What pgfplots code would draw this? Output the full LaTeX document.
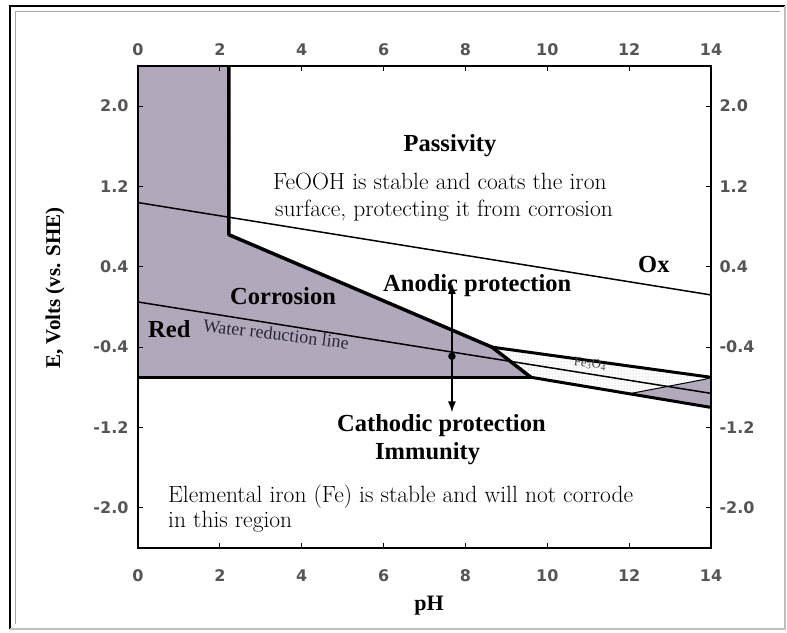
\documentclass[border=0pt]{standalone}
\usepackage{pgfplots}
\pgfplotsset{compat=1.18}
\usepackage{fontspec}
\usetikzlibrary{patterns,arrows.meta}
\newfontfamily\tnr{Liberation Serif}
\newfontfamily\tsf{DejaVu Sans}
\definecolor{corr}{RGB}{178,170,188}
\definecolor{corrdot}{RGB}{160,152,172}
\definecolor{tickgray}{RGB}{85,85,85}
\definecolor{thin}{RGB}{40,40,60}
\begin{document}
\begin{tikzpicture}
\useasboundingbox (0pt,0pt) rectangle (787pt,632pt);
\draw[line width=2.5pt] (10pt,3pt) -- (10pt,626pt) -- (785pt,626pt);
\draw[line width=1.5pt, gray!50] (10pt,3pt) -- (785pt,3pt) -- (785pt,626pt);
\draw[line width=0.8pt, gray!70] (15pt,8pt) -- (15pt,621pt) -- (780pt,621pt);
\pgfplotsset{mybase/.style={at={(138pt,84pt)}, anchor=south west, scale only axis,
  width=573pt, height=482pt, xmin=0, xmax=14, ymin=-2.4, ymax=2.4,
  xtick={0,2,...,14}, xticklabels={0,2,4,6,8,10,12,14},
  ytick={-2,-1.2,-0.4,0.4,1.2,2}, yticklabels={-2.0,-1.2,-0.4,0.4,1.2,2.0},
  tick align=inside, major tick length=5pt,
  tick style={line width=1.2pt, black},
  ticklabel style={font=\tsf\bfseries\fontsize{16}{16}\selectfont, text=tickgray}}}
\begin{axis}[mybase, axis on top,
  axis line style={line width=1.8pt},
  xticklabel style={anchor=center, yshift=-28pt},
  yticklabel style={anchor=east, xshift=-6pt}]
\addplot[fill=corr, draw=none] coordinates {(0,2.4)(2.22,2.4)(2.22,0.72)(8.65,-0.40)(9.6,-0.70)(0,-0.70)} -- cycle;
\addplot[pattern=dots, pattern color=corrdot, draw=none] coordinates {(0,2.4)(2.22,2.4)(2.22,0.72)(8.65,-0.40)(9.6,-0.70)(0,-0.70)} -- cycle;
\addplot[fill=white, draw=none] coordinates {(8.65,-0.40)(14,-0.70)(13.85,-0.72)(12.0,-0.86)(9.6,-0.70)} -- cycle;
\addplot[pattern=dots, pattern color=gray!70, draw=none] coordinates {(8.65,-0.40)(14,-0.70)(13.85,-0.72)(12.0,-0.86)(9.6,-0.70)} -- cycle;
\addplot[fill=corr, draw=none] coordinates {(12.0,-0.864)(13.85,-0.72)(14,-0.70)(14,-1.0)} -- cycle;
\addplot[thin, line width=1pt] coordinates {(12.0,-0.864)(13.85,-0.72)(14,-0.70)};
\addplot[thin, line width=1.5pt] coordinates {(0,0.05)(14,-0.86)};
\addplot[thin, line width=1.5pt] coordinates {(0,1.04)(14,0.12)};
\addplot[black, line width=3.5pt, line join=round] coordinates {(2.22,2.45)(2.22,0.72)(8.65,-0.40)(9.6,-0.70)};
\addplot[black, line width=3pt] coordinates {(0,-0.70)(9.6,-0.70)};
\addplot[black, line width=3pt] coordinates {(8.65,-0.40)(14,-0.70)};
\addplot[black, line width=3pt] coordinates {(9.6,-0.70)(14,-1.0)};
\addplot[black, line width=1.6pt, {Latex[length=11pt,width=8pt]}-{Latex[length=11pt,width=8pt]}] coordinates {(7.67,0.24)(7.67,-1.05)};
\addplot[only marks, mark=*, mark size=3.5pt, black] coordinates {(7.67,-0.49)};
\end{axis}
\begin{axis}[mybase, axis line style={draw=none}, major tick length=0pt,
  xticklabel pos=upper, yticklabel pos=right,
  xticklabel style={anchor=center, yshift=16pt},
  yticklabel style={anchor=west, xshift=5pt}]
\end{axis}
\begin{scope}[x=1pt,y=1pt]
\tikzset{bl/.style={font=\tnr\bfseries\fontsize{24.5}{28}\selectfont, inner sep=0pt},
         rg/.style={font=\fontsize{23.5}{28}\selectfont, inner sep=0pt}}
\node[bl, anchor=base] at (450,480) {Passivity};
\node[rg, anchor=base west] at (273,442) {FeOOH is stable and coats the iron};
\node[rg, anchor=base west] at (275,415) {surface, protecting it from corrosion};
\node[bl, anchor=base west] at (638,359) {Ox};
\node[bl, anchor=base west] at (383,340) {Anodic protection};
\node[bl, anchor=base west] at (230,327) {Corrosion};
\node[bl, anchor=base west] at (148,294) {Red};
\node[font=\tnr\fontsize{18}{19}\selectfont, rotate=-7, inner sep=0pt, text=thin] at (276,298) {Water reduction line};
\node[font=\tnr\fontsize{13}{14}\selectfont, rotate=-6, inner sep=0pt, text=darkgray] at (590,268) {Fe\textsubscript{3}O\textsubscript{4}};
\node[bl, anchor=base west] at (337,200) {Cathodic protection};
\node[bl, anchor=base west] at (375,172) {Immunity};
\node[rg, anchor=base west] at (168,129) {Elemental iron (Fe) is stable and will not corrode};
\node[rg, anchor=base west] at (168,104) {in this region};
\node[font=\tnr\bfseries\fontsize{21}{24}\selectfont, rotate=90, inner sep=0pt] at (55,344) {E, Volts (vs. SHE)};
\node[font=\tnr\bfseries\fontsize{22}{24}\selectfont, anchor=base, inner sep=0pt] at (429,22) {pH};
\end{scope}
\end{tikzpicture}
\end{document}
